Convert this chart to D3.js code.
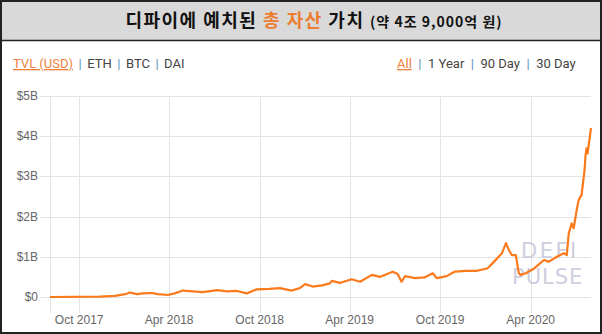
<!DOCTYPE html>
<html>
<head>
<meta charset="utf-8">
<script src="https://cdn.jsdelivr.net/npm/d3@7"></script>
<style>
  body { margin: 0; background: #fff; }
  svg { display: block; }
</style>
</head>
<body>
<script>
const width = 602
const height = 334

// TVL readings (billions USD)
const dates = ['2017-08-03','2017-11-12','2017-12-12','2018-01-02','2018-01-12','2018-01-26','2018-02-07','2018-02-25',
  '2018-03-09','2018-03-29','2018-04-12','2018-04-29','2018-05-19','2018-06-08','2018-07-07','2018-07-27','2018-08-16',
  '2018-09-05','2018-09-25','2018-10-21','2018-11-11','2018-12-05','2018-12-21','2019-01-01','2019-01-16','2019-02-04',
  '2019-02-20','2019-02-24','2019-03-12','2019-04-05','2019-04-22','2019-05-16','2019-06-01','2019-06-27','2019-07-07',
  '2019-07-15','2019-07-22','2019-08-11','2019-08-31','2019-09-16','2019-09-24','2019-10-14','2019-10-30','2019-11-23',
  '2019-12-13','2020-01-04','2020-01-08','2020-01-18','2020-02-03','2020-02-11','2020-02-17','2020-02-23','2020-03-02',
  '2020-03-08','2020-03-12','2020-03-22','2020-04-08','2020-04-28','2020-05-08','2020-05-24','2020-06-07','2020-06-13',
  '2020-06-17','2020-06-23','2020-06-27','2020-07-03','2020-07-07','2020-07-13','2020-07-19','2020-07-21','2020-07-23',
  '2020-07-25','2020-08-01']
const tvl = [0.0, 0.01, 0.03, 0.07, 0.11, 0.07, 0.09, 0.10,
  0.07, 0.05, 0.09, 0.16, 0.14, 0.12, 0.17, 0.14, 0.15,
  0.09, 0.19, 0.20, 0.22, 0.16, 0.22, 0.32, 0.26, 0.29,
  0.34, 0.40, 0.35, 0.44, 0.38, 0.55, 0.50, 0.63, 0.57,
  0.38, 0.52, 0.47, 0.49, 0.59, 0.47, 0.52, 0.63, 0.65,
  0.65, 0.71, 0.75, 0.88, 1.09, 1.34, 1.17, 1.04, 1.04,
  0.59, 0.55, 0.59, 0.71, 0.92, 0.88, 1.00, 1.09, 1.04,
  1.58, 1.83, 1.71, 2.16, 2.41, 2.54, 3.16, 3.53, 3.70,
  3.57, 4.20]

const yTicks = [0, 1, 2, 3, 4, 5]
const yTickLabels = ['$0', '$1B', '$2B', '$3B', '$4B', '$5B']
const xTicks = ['2017-10-01', '2018-04-01', '2018-10-01', '2019-04-01', '2019-10-01', '2020-04-01']

const leftLinks = ['TVL (USD)', 'ETH', 'BTC', 'DAI']
const rightLinks = ['All', '1 Year', '90 Day', '30 Day']

const parse = d3.timeParse('%Y-%m-%d')
const data = dates.map((d, i) => ({date: parse(d), v: tvl[i]}))

const svg = d3.select('body').append('svg')
    .attr('width', width)
    .attr('height', height)

svg.append('rect').attr('width', width).attr('height', height).attr('fill', '#fff')

// title box
svg.append('rect')
    .attr('x', 0).attr('y', 0).attr('width', width).attr('height', 40)
    .attr('fill', '#d9d9d9')
svg.append('line')
    .attr('x1', 0).attr('x2', width).attr('y1', 40.5).attr('y2', 40.5)
    .attr('stroke', '#222').attr('stroke-width', 1.5)

const title = svg.append('text')
    .attr('x', 314).attr('y', 27)
    .attr('text-anchor', 'middle')
    .style('font-family', '"Noto Sans CJK KR", sans-serif')
    .style('font-weight', 'bold')
    .style('font-size', '18px')
    .style('letter-spacing', '1.5px')
    .attr('fill', '#111')
title.append('tspan').text('디파이에 예치된 ')
title.append('tspan').attr('fill', '#ed7d31').text('총 자산')
title.append('tspan').text(' 가치 ')
title.append('tspan').style('font-size', '14px').style('letter-spacing', '1px').text('(약 4조 9,000억 원)')

// link rows
function linkRow(items, x0, y, gap) {
    const t = svg.append('text')
        .attr('x', x0).attr('y', y)
        .style('font-family', 'Roboto, sans-serif')
        .style('font-size', '13px')
        .attr('fill', '#444')
    items.forEach((s, i) => {
        if (i > 0) t.append('tspan').attr('dx', gap).attr('fill', '#5b8db8').text('|')
        const sp = t.append('tspan').attr('dx', i > 0 ? gap : 0).text(s)
        if (i === 0) sp.attr('fill', '#f07f3c').style('text-decoration', 'underline')
    })
}
linkRow(leftLinks, 13, 68, 5.5)
linkRow(rightLinks, 397, 68, 6.5)

// scales
const x = d3.scaleTime()
    .domain([parse('2017-08-03'), parse('2020-08-01')])
    .range([50, 591])
const y = d3.scaleLinear()
    .domain([0, 5])
    .range([297, 96])

const grid = svg.append('g')
grid.selectAll('.hg').data(yTicks).join('line')
    .attr('x1', 40).attr('x2', 591)
    .attr('y1', d => Math.round(y(d)) + 0.5).attr('y2', d => Math.round(y(d)) + 0.5)
    .attr('stroke', '#e4e4e4')
grid.selectAll('.vg').data([parse('2017-08-03')].concat(xTicks.map(parse))).join('line')
    .attr('x1', d => Math.round(x(d)) + 0.5).attr('x2', d => Math.round(x(d)) + 0.5)
    .attr('y1', 96).attr('y2', 313)
    .attr('stroke', '#e4e4e4')

svg.selectAll('.yl').data(yTicks).join('text')
    .attr('x', 38).attr('y', d => y(d) + 4)
    .attr('text-anchor', 'end')
    .style('font-family', '"Liberation Sans", Arial, sans-serif')
    .style('font-size', '12px')
    .attr('fill', '#666')
    .text((d, i) => yTickLabels[i])

svg.selectAll('.xl').data(xTicks).join('text')
    .attr('x', d => x(parse(d))).attr('y', 324)
    .attr('text-anchor', 'middle')
    .style('font-family', '"Liberation Sans", Arial, sans-serif')
    .style('font-size', '12px')
    .attr('fill', '#666')
    .text(d => d3.timeFormat('%b %Y')(parse(d)))

// watermark
const wm = svg.append('g')
    .style('font-family', '"DejaVu Sans", sans-serif')
    .style('font-size', '21px')
    .attr('fill', '#c6c6da')
    .attr('opacity', 0.85)
wm.append('text').attr('x', 521).attr('y', 258).style('letter-spacing', '2.5px').text('DEFI')
wm.append('text').attr('x', 512).attr('y', 284).style('letter-spacing', '1px').text('PULSE')

svg.append('path')
    .datum(data)
    .attr('fill', 'none')
    .attr('stroke', '#fb7a1c')
    .attr('stroke-width', 2.2)
    .attr('stroke-linejoin', 'round')
    .attr('d', d3.line().x(d => x(d.date)).y(d => y(d.v)))

// outer frame
svg.append('rect')
    .attr('x', 1).attr('y', 1).attr('width', width - 2).attr('height', height - 2)
    .attr('fill', 'none').attr('stroke', '#222').attr('stroke-width', 2)
</script>
</body>
</html>
